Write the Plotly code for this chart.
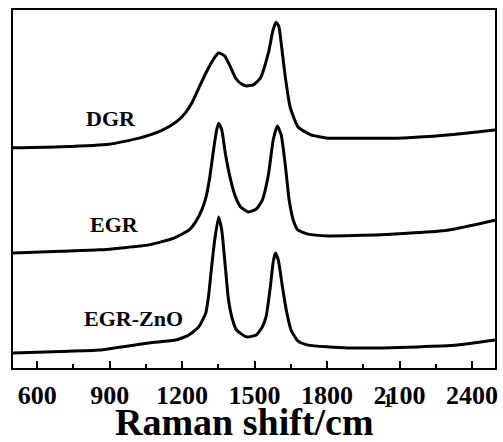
import plotly.graph_objects as go

# Raman spectra (wavenumber in cm^-1, intensity in arbitrary units)
dgr_x = [500, 700, 898, 1022, 1104, 1150, 1186, 1215, 1240, 1269, 1302, 1330, 1351, 1376, 1400, 1421,
         1446, 1466, 1495, 1524, 1557, 1575, 1588, 1600, 1610, 1627, 1647, 1680, 1733, 1803, 1886,
         2092, 2298, 2495]
dgr_y = [61.5, 61.8, 62.5, 64.2, 66.0, 67.6, 69.3, 71.4, 74.0, 78.2, 82.9, 86.3, 88.0, 87.2, 84.1, 81.0,
         79.3, 78.8, 79.1, 81.0, 88.0, 94.0, 96.6, 95.5, 90.8, 81.3, 72.9, 67.3, 65.1, 64.2, 64.2,
         64.2, 65.1, 66.5]

egr_x = [500, 700, 857, 1063, 1166, 1228, 1256, 1281, 1298, 1314, 1330, 1343, 1351, 1364, 1380, 1401,
         1421, 1442, 1474, 1507, 1532, 1557, 1577, 1594, 1610, 1627, 1643, 1660, 1680, 1721, 1804,
         2022, 2298, 2495]
egr_y = [32.1, 32.6, 33.0, 34.4, 36.3, 38.5, 40.8, 44.1, 47.5, 53.1, 60.9, 66.5, 68.4, 66.5, 59.5, 52.5,
         47.8, 45.0, 43.6, 44.4, 46.9, 53.9, 63.7, 67.6, 65.1, 56.7, 46.9, 41.3, 38.5, 37.4, 36.9,
         37.2, 38.5, 41.3]

zno_x = [500, 700, 857, 1063, 1174, 1228, 1269, 1298, 1310, 1322, 1335, 1351, 1364, 1380, 1392, 1409,
         1425, 1466, 1507, 1532, 1548, 1565, 1577, 1586, 1598, 1614, 1631, 1651, 1680, 1721, 1886,
         2174, 2339, 2495]
zno_y = [4.2, 4.6, 5.0, 7.0, 7.8, 9.2, 11.5, 15.4, 20.4, 28.2, 35.8, 42.2, 38.5, 27.4, 19.0, 13.4,
         10.6, 8.7, 9.2, 11.5, 14.5, 22.6, 29.6, 32.1, 30.2, 23.2, 16.2, 10.6, 7.5, 6.4, 5.6,
         5.9, 6.4, 7.8]

labels = ["DGR", "EGR", "EGR-ZnO"]
label_x = [907, 919, 998]
label_y = [69.6, 40.2, 13.9]

tick_vals = [600, 900, 1200, 1500, 1800, 2100, 2400]
tick_text = ["600", "900", "1200", "1500", "1800", "2100", "2400"]

serif = "Liberation Serif"

fig = go.Figure()
for xs, ys in [(dgr_x, dgr_y), (egr_x, egr_y), (zno_x, zno_y)]:
    fig.add_trace(go.Scatter(x=xs, y=ys, mode="lines",
                             line=dict(color="black", width=3, shape="spline", smoothing=0.5),
                             showlegend=False, hoverinfo="skip"))

for t, x, y in zip(labels, label_x, label_y):
    fig.add_annotation(x=x, y=y, xref="x", yref="y", text=t, showarrow=False,
                       xanchor="center", yanchor="middle",
                       font=dict(family=serif, size=22, color="black", weight="bold"))

fig.add_annotation(x=0.480, y=-0.152, xref="paper", yref="paper", text="Raman shift/cm",
                   showarrow=False, xanchor="center", yanchor="middle",
                   font=dict(family=serif, size=38, color="black", weight="bold"))
fig.add_annotation(x=0.772, y=-0.092, xref="paper", yref="paper", text="-1",
                   showarrow=False, xanchor="center", yanchor="middle",
                   font=dict(family=serif, size=19, color="black", weight="bold"))

fig.update_layout(
    width=503, height=442,
    margin=dict(l=13, r=5, t=10, b=74),
    plot_bgcolor="white", paper_bgcolor="white",
    xaxis=dict(range=[500, 2495], tickvals=tick_vals, ticktext=tick_text,
               ticks="inside", ticklen=7, tickwidth=2, tickcolor="black",
               minor=dict(ticks="inside", tickvals=[750, 1050, 1350, 1650, 1950, 2250],
                          ticklen=4, tickwidth=2, tickcolor="black"),
               showline=True, linewidth=2, linecolor="black", mirror=True,
               showgrid=False, zeroline=False, ticklabelstandoff=3,
               tickfont=dict(family=serif, size=26, color="black", weight="bold")),
    yaxis=dict(range=[0, 100], showticklabels=False, ticks="",
               showline=True, linewidth=2, linecolor="black", mirror=True,
               showgrid=False, zeroline=False),
)

fig.write_html("out.html")
